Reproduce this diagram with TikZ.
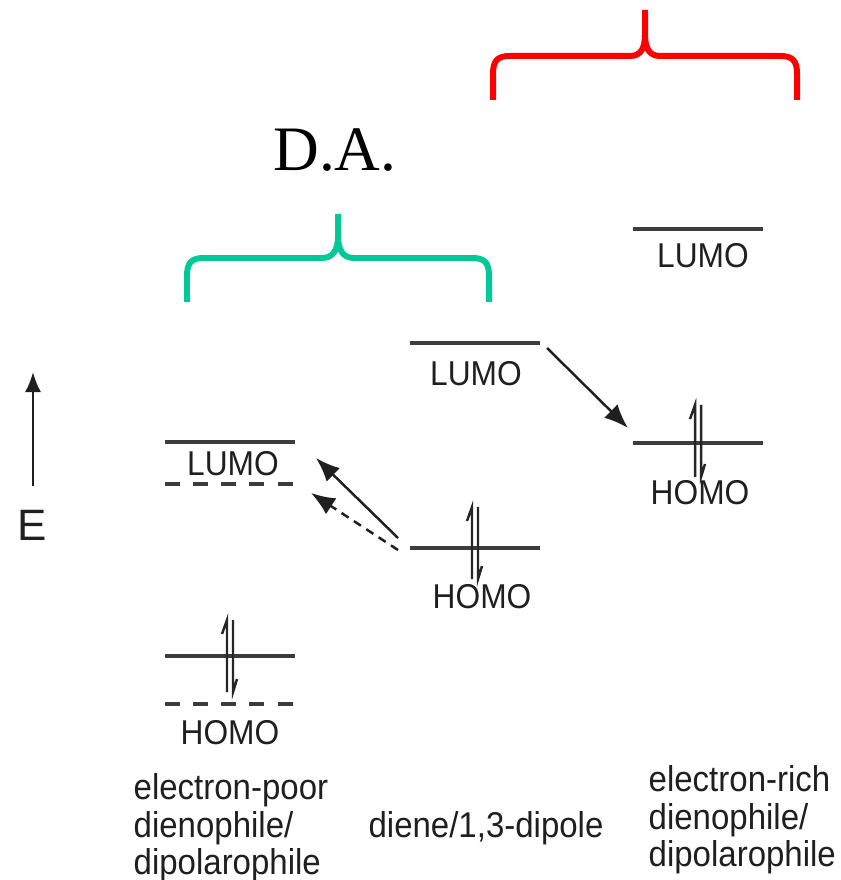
\documentclass[tikz,border=0pt]{standalone}
\usepackage{fontspec}
\setmainfont{Liberation Sans}
\newfontfamily\daserif{Liberation Serif}
\newfontfamily\lblfont[FakeStretch=0.92]{Liberation Sans}
\usetikzlibrary{positioning,arrows.meta}

\definecolor{bracegreen}{RGB}{0,200,150}
\definecolor{levelgray}{RGB}{60,60,60}

% pair of half-arrows (two electrons) centred on a level
\newcommand{\spinpair}[1]{%
    \draw[spin] (#1) ++(-3,36) -- ++(0,-72) -- ++(-5,14);
    \draw[spin] (#1) ++(3,-36) -- ++(0,72) -- ++(4,-13);
}

\begin{document}
\begin{tikzpicture}[
            x=0.01cm, y=-0.01cm,
            lvl/.style={draw=levelgray,line width=0.9pt},
            dlvl/.style={lvl,dash pattern=on 4.3pt off 3.7pt},
            spin/.style={draw=black!85,line width=0.7pt,line join=miter},
            mo/.style={text=black!88,font=\lblfont\fontsize{9.8}{11}\selectfont,inner sep=0pt},
            captxt/.style={text=black!88,font=\lblfont\fontsize{10.2}{10.7}\selectfont,inner sep=0pt,align=left},
            brace/.style={line width=1.7pt,line cap=butt,line join=round},
            ar/.style={draw=black!88,line width=0.7pt,-{Latex[length=2.4mm,width=1.9mm]}}
        ]

        \useasboundingbox (0,0) rectangle (840,880);

        % energy axis
        \coordinate (Ebot) at (33,486);
        \coordinate (Etop) at (33,372);
        \draw[draw=black!88,line width=0.7pt,-{Latex[length=2mm,width=1.6mm]}] (Ebot) -- (Etop);
        \node[text=black!88,font=\fontsize{12.5}{14}\selectfont,inner sep=0pt] (E) at (32,525) {E};

        % level centres
        \coordinate (lumoA) at (230,442);
        \coordinate (homoA) at (230,656);
        \coordinate (lumoB) at (475,343);
        \coordinate (homoB) at (475,548);
        \coordinate (lumoC) at (698,229);
        \coordinate (homoC) at (698,443);

        % levels
        \draw[lvl] ([xshift=-0.65cm]lumoA) -- ([xshift=0.65cm]lumoA);
        \draw[dlvl] ([xshift=-0.65cm,yshift=-0.42cm]lumoA) -- ([xshift=0.65cm,yshift=-0.42cm]lumoA);
        \draw[lvl] ([xshift=-0.65cm]homoA) -- ([xshift=0.65cm]homoA);
        \draw[dlvl] ([xshift=-0.65cm,yshift=-0.48cm]homoA) -- ([xshift=0.65cm,yshift=-0.48cm]homoA);
        \draw[lvl] ([xshift=-0.65cm]lumoB) -- ([xshift=0.65cm]lumoB);
        \draw[lvl] ([xshift=-0.65cm]homoB) -- ([xshift=0.65cm]homoB);
        \draw[lvl] ([xshift=-0.65cm]lumoC) -- ([xshift=0.65cm]lumoC);
        \draw[lvl] ([xshift=-0.65cm]homoC) -- ([xshift=0.65cm]homoC);

        \spinpair{homoA}
        \spinpair{[yshift=0.05cm]homoB}
        \spinpair{[yshift=0.02cm]homoC}

        % labels
        \node[mo] (tLumoA) at (233,464) {LUMO};
        \node[mo] (tHomoA) at (230,733) {HOMO};
        \node[mo] (tLumoB) at (476,374) {LUMO};
        \node[mo] (tHomoB) at (482,597) {HOMO};
        \node[mo] (tLumoC) at (703,256) {LUMO};
        \node[mo] (tHomoC) at (700,493) {HOMO};

        % interactions
        \coordinate (a1) at (547,348);
        \coordinate (a2) at (628,428);
        \coordinate (b1) at (398,538);
        \coordinate (b2) at (316,458);
        \coordinate (c1) at (398,550);
        \coordinate (c2) at (311,493);
        \draw[ar] (a1) -- (a2);
        \draw[ar] (b1) -- (b2);
        \draw[ar,dash pattern=on 2.4pt off 1.8pt] (c1) -- (c2);

        % braces
        \draw[brace,red] (493,100) -- (493,74) .. controls (493,61) and (497,56) .. (510,56)
            -- (630,56) .. controls (641,56) and (645,48) .. (645,34) -- (645,10);
        \draw[brace,red] (797,100) -- (797,74) .. controls (797,61) and (793,56) .. (780,56)
            -- (660,56) .. controls (649,56) and (645,48) .. (645,34);
        \draw[brace,bracegreen] (187,302) -- (187,276) .. controls (187,263) and (191,258) .. (204,258)
            -- (322,258) .. controls (333,258) and (338,250) .. (338,236) -- (338,214);
        \draw[brace,bracegreen] (489,302) -- (489,276) .. controls (489,263) and (485,258) .. (472,258)
            -- (354,258) .. controls (343,258) and (338,250) .. (338,236);

        \node[font=\daserif\fontsize{18}{20}\selectfont,inner sep=0pt] (DA) at (335,150) {D.A.};

        % captions
        \node[captxt,anchor=north west] (poor) at (133,773) {electron-poor\\dienophile/\\dipolarophile};
        \node[captxt] (diene) at (486,828) {diene/1,3-dipole};
        \node[captxt,anchor=north west] (rich) at (648,765) {electron-rich\\dienophile/\\dipolarophile};

\end{tikzpicture}
\end{document}
